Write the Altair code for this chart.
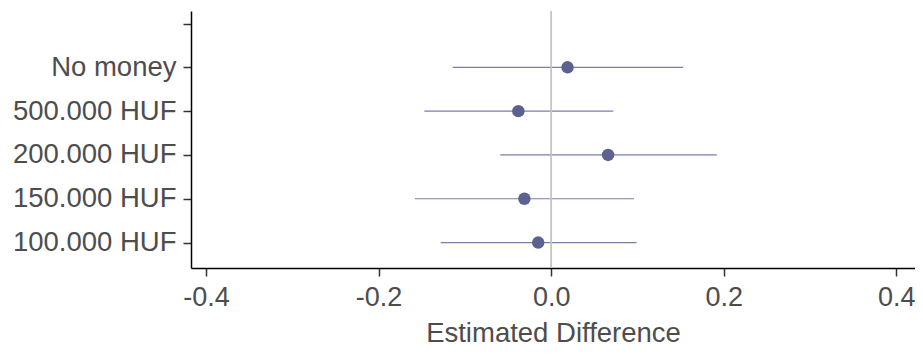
import altair as alt
import pandas as pd

# Data
levels = [" ", "No money", "500.000 HUF", "200.000 HUF", "150.000 HUF", "100.000 HUF"]
categories = ["No money", "500.000 HUF", "200.000 HUF", "150.000 HUF", "100.000 HUF"]
estimates = [0.019, -0.038, 0.066, -0.031, -0.015]
lower = [-0.114, -0.147, -0.059, -0.158, -0.128]
upper = [0.153, 0.072, 0.192, 0.096, 0.099]
x_ticks = [-0.4, -0.2, 0.0, 0.2, 0.4]
x_domain = [-0.4174, 0.4217]

df = pd.DataFrame({"level": categories, "estimate": estimates, "lower": lower, "upper": upper})

FONT = "Liberation Sans"
TEXT = "#4D4D4D"
PT = "#5D6190"

yscale = alt.Scale(type="point", domain=levels, padding=0.434, align=0.33)
xscale = alt.Scale(domain=x_domain, nice=False, zero=False)

xaxis = alt.Axis(
    values=x_ticks,
    labelExpr="(datum.value < 0 ? '-' : '') + format(abs(datum.value), '.1f')",
    title="Estimated Difference",
    grid=False,
    domainColor="black", domainWidth=1.5,
    tickColor="#333333", tickWidth=1.5, tickSize=8,
    labelFont=FONT, labelFontSize=27, labelColor=TEXT, labelPadding=8,
    titleFont=FONT, titleFontSize=27.5, titleColor=TEXT, titleFontWeight="normal",
    titleBaseline="alphabetic", titleY=73,
)
yaxis = alt.Axis(
    title=None,
    grid=False,
    domainColor="black", domainWidth=1.5,
    tickColor="#333333", tickWidth=1.5, tickSize=8,
    labelFont=FONT, labelFontSize=27.5, labelColor=TEXT, labelPadding=7,
)

base = alt.Chart(df)

bars = base.mark_rule(color="#7A7DA6", strokeWidth=1.2).encode(
    x=alt.X("lower:Q", scale=xscale, axis=xaxis),
    x2="upper:Q",
    y=alt.Y("level:N", scale=yscale, axis=yaxis),
)

zero = alt.Chart(pd.DataFrame({"z": [0.0]})).mark_rule(color="#C4C4C4", strokeWidth=1.8).encode(
    x=alt.X("z:Q", scale=xscale, axis=xaxis),
)

points = base.mark_circle(color=PT, opacity=1, size=155).encode(
    x=alt.X("estimate:Q", scale=xscale, axis=xaxis),
    y=alt.Y("level:N", scale=yscale, axis=yaxis),
)

chart = alt.layer(bars, zero, points).properties(
    width=724,
    height=257,
    autosize=alt.AutoSizeParams(type="none"),
    padding={"left": 183, "top": 3, "right": 0, "bottom": 79},
).configure(background="white").configure_view(strokeWidth=0, stroke="transparent")

chart.save("out.html", embed_options={"renderer": "svg", "actions": False})
